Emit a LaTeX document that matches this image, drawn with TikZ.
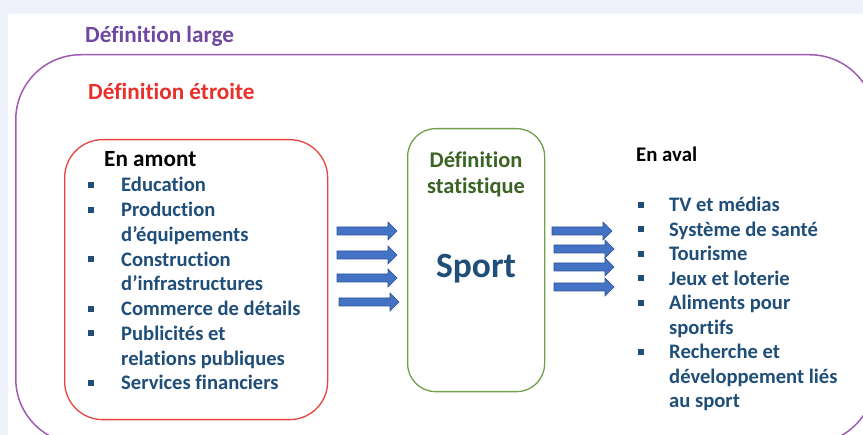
\documentclass[tikz,border=0pt]{standalone}
\usepackage{fontspec}
\setmainfont[Ligatures=NoCommon]{Carlito}
\usetikzlibrary{positioning}
\definecolor{pagebg}{HTML}{EEF1F9}
\definecolor{largec}{HTML}{9F5BB4}
\definecolor{largetxt}{HTML}{7048A0}
\definecolor{etroitec}{HTML}{E8433F}
\definecolor{etroitetxt}{HTML}{E8302C}
\definecolor{statc}{HTML}{70A04E}
\definecolor{stattxt}{HTML}{3B6324}
\definecolor{itemc}{HTML}{1F4E79}
\definecolor{flechefill}{HTML}{4472C4}
\definecolor{flechedraw}{HTML}{2F5597}
\tikzstyle{title} = [inner sep=0, anchor=base west, font=\fontsize{23.2}{28}\selectfont\bfseries]
\tikzstyle{item} = [inner sep=0, anchor=base west, text=itemc, font=\fontsize{20.6}{24}\selectfont\bfseries]
\tikzstyle{puce} = [rectangle, fill=itemc, inner sep=0, minimum size=6pt]

\begin{document}
\begin{tikzpicture}[x=1pt,y=-1pt]
\tikzset{%
	wrap/.style = {rectangle, rounded corners=#1, line width=1.3pt, inner sep=0, anchor=north west},
	fleche/.pic = {\draw[fill=flechefill, draw=flechedraw, line width=0.6pt] (0,-4) -- (51,-4) -- (51,-9) -- (60,0) -- (51,9) -- (51,4) -- (0,4) -- cycle;}
}
\useasboundingbox (0,0) rectangle (863,435);
\fill[pagebg] (0,0) rectangle (863,435);
\fill[white] (8,14) rectangle (863,435);

\node(large) [wrap=65pt, draw=largec, line width=1.5pt, minimum width=859pt, minimum height=389pt] at (15,54) {};
\node(etroite) [wrap=38pt, draw=etroitec, minimum width=263pt, minimum height=280pt] at (64,139) {};
\node(stat) [wrap=28pt, draw=statc, minimum width=137pt, minimum height=263pt] at (407,128) {};

\node(tlarge) [title, text=largetxt] at (85,43) {Définition large};
\node(tetroite) [title, text=etroitetxt] at (88,100) {Définition étroite};
\node(tamont) [title] at (104,167) {En amont};
\node(taval) [title, font=\fontsize{20.8}{24}\selectfont\bfseries] at (636,162) {En aval};

\node(tstat1) [item, anchor=base, text=stattxt, font=\fontsize{22.4}{26}\selectfont\bfseries] at (476,168) {Définition};
\node(tstat2) [item, anchor=base, text=stattxt, font=\fontsize{22.4}{26}\selectfont\bfseries] at (476,194) {statistique};
\node(tsport) [item, anchor=base, font=\fontsize{35.5}{40}\selectfont\bfseries] at (476,278) {Sport};

\foreach \yy/\txt/\b [count=\i] in {192/Education/1, 216.75/Production/1, 241.5/d’équipements/0, 266.25/Construction/1, 291/d’infrastructures/0, 315.75/Commerce de détails/1, 340.5/Publicités et/1, 365.25/relations publiques/0, 390/Services financiers/1}
{
	\node(am\i) [item] at (121,\yy) {\txt};
	\ifnum\b=1 \node(pam\i) [puce] at (91,\yy-7) {}; \fi
}

\foreach \yy/\txt/\b [count=\i] in {212/TV et médias/1, 236.5/Système de santé/1, 261/Tourisme/1, 285.5/Jeux et loterie/1, 310/Aliments pour/1, 334.5/sportifs/0, 359/Recherche et/1, 383.5/développement liés/0, 408/au sport/0}
{
	\node(av\i) [item] at (669,\yy) {\txt};
	\ifnum\b=1 \node(pav\i) [puce] at (640.5,\yy-7) {}; \fi
}

\pic(fg1) at (337,231) {fleche};
\pic(fg2) at (337,255) {fleche};
\pic(fg3) at (337,278) {fleche};
\pic(fg4) at (339,302) {fleche};

\pic(fd1) at (552,231) {fleche};
\pic(fd2) at (554,249) {fleche};
\pic(fd3) at (554,267) {fleche};
\pic(fd4) at (554,287) {fleche};
\end{tikzpicture}
\end{document}
